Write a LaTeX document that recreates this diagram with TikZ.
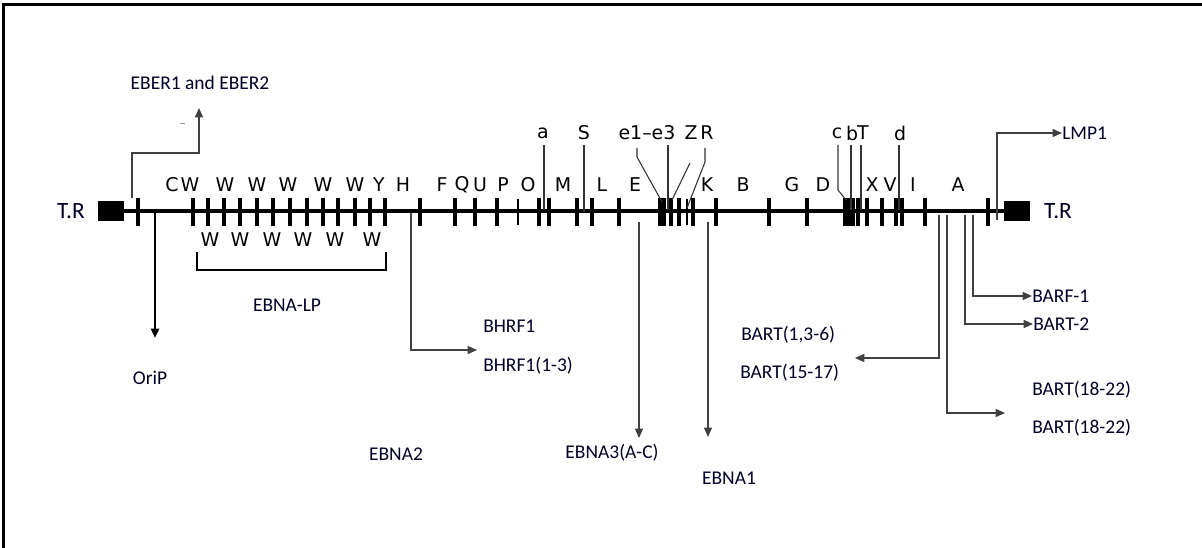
\documentclass[tikz,border=0pt]{standalone}
\usepackage{fontspec}
\setmainfont{Carlito}
\newfontfamily\mapfont{DejaVu Sans}
\usetikzlibrary{arrows.meta}
\begin{document}
\begin{tikzpicture}[x=0.75pt,y=-0.75pt,
  lbl/.style={inner sep=0pt,font=\fontsize{14.6}{16}\selectfont,text=black!85!blue},
  tr/.style={inner sep=0pt,font=\fontsize{17.5}{19}\selectfont,text=black!85!blue},
  mapl/.style={inner sep=0pt,font=\mapfont\fontsize{14.2}{16}\selectfont},
  tick/.style={line width=3pt},
  thintick/.style={line width=1.6pt},
  ptr/.style={line width=0.8pt,black!80},
  arr/.style={line width=0.9pt,black!75,-{Triangle[length=7pt,width=6pt]}},
  frameline/.style={line width=2pt}]
\useasboundingbox (0,0) rectangle (1202,548);
% frame
\draw[frameline] (3.5,548) -- (3.5,4.5) -- (1202,4.5);
% main line and end boxes
\coordinate (L) at (124,211);
\coordinate (R) at (1004,211);
\draw[line width=3.2pt] (L) -- (R);
\node[fill=black,minimum width=19.5pt,minimum height=15.5pt,inner sep=0pt] (boxL) at (111,211) {};
\node[fill=black,minimum width=19.5pt,minimum height=15.5pt,inner sep=0pt] (boxR) at (1017,211) {};
\node[tr] (trL) at (71,211) {T.R};
\node[tr] (trR) at (1058,211) {T.R};
% ticks
\foreach \x in {138,193,208,224,240,257,273,290,307,323,338,355,370,385,420,455,475,497,539,549,577,592,619,660,664,671,679,693,716,769,807,845,849,853,858,867,882,896,902,925,988}
  \draw[tick] (\x,198) -- (\x,226);
\foreach \x in {518,687}
  \draw[thintick] (\x,199) -- (\x,225);
% upper letters
\foreach \x/\t in {172/C,190/W,225/W,257/W,288/W,323/W,355/W,379/Y,403/H,442/F,462/Q,480/U,503/P,528/O,563/M,602/L,635/E,707/K,743/B,792/G,823/D,872/X,890/V,913/I,958/A}
  \node[mapl] at (\x,185) {\t};
% lower W
\foreach \x in {210,240,272,303,335,372}
  \node[mapl] at (\x,240) {W};
% top labels
\node[mapl] (la) at (543,133) {a};
\node[mapl] (lS) at (584,133) {S};
\node[mapl] (le) at (647,133) {e1–e3};
\node[mapl] (lZ) at (691,133) {Z};
\node[mapl] (lR) at (707,133) {R};
\node[mapl] (lc) at (837,133) {c};
\node[mapl] (lb) at (852,133) {b};
\node[mapl] (lT) at (863,133) {T};
\node[mapl] (ld) at (900,133) {d};
% pointer lines
\draw[ptr] (544,145) -- (544,210);
\draw[ptr] (584,145) -- (584,212);
\draw[ptr] (637,148) -- (637,157) -- (662,202);
\draw[ptr] (668,145) -- (668,210);
\draw[ptr] (690,163) -- (672,200);
\draw[ptr] (705,148) -- (705,162) -- (687,208);
\draw[ptr] (838,145) -- (838,190) -- (846,200);
\draw[ptr] (851,145) -- (851,210);
\draw[ptr] (861,145) -- (861,210);
\draw[ptr] (899,145) -- (899,210);
% EBER
\node[lbl] (eber) at (200,83) {EBER1 and EBER2};
\coordinate (eberS) at (132,198);
\coordinate (eberT) at (199,108);
\draw[arr,line width=1.2pt] (eberS) -- (132,153) -- (199,153) -- (eberT);
\draw[black!40,line width=0.6pt] (180,123) -- (185,123);
% OriP
\node[lbl] (orip) at (150,378) {OriP};
\coordinate (oriS) at (155,213);
\coordinate (oriT) at (155,338);
\draw[arr,line width=2pt,black] (oriS) -- (oriT);
% EBNA-LP bracket
\coordinate (brL) at (197,252);
\coordinate (brR) at (386,252);
\draw[line width=1.5pt] (brL) -- (197,270) -- (386,270) -- (brR);
\node[lbl] (ebnalp) at (287,305) {EBNA-LP};
% BHRF1
\node[lbl,anchor=west] (bhrf) at (483,326) {BHRF1};
\node[lbl,anchor=west] (bhrf13) at (483,366) {BHRF1(1-3)};
\coordinate (bhS) at (411,213);
\coordinate (bhT) at (477,350);
\draw[arr] (bhS) -- (411,350) -- (bhT);
% EBNA2
\node[lbl] (ebna2) at (396,454) {EBNA2};
% EBNA3
\node[lbl] (ebna3) at (612,453) {EBNA3(A-C)};
\coordinate (e3S) at (639,222);
\coordinate (e3T) at (639,438);
\draw[arr] (e3S) -- (e3T);
% EBNA1
\node[lbl] (ebna1) at (729,478) {EBNA1};
\coordinate (e1S) at (708,222);
\coordinate (e1T) at (708,437);
\draw[arr] (e1S) -- (e1T);
% BART
\node[lbl,anchor=west] (bart1) at (741,335) {BART(1,3-6)};
\node[lbl,anchor=west] (bart15) at (740,373) {BART(15-17)};
\coordinate (bLS) at (939,215);
\coordinate (bLT) at (855,358);
\draw[arr] (bLS) -- (939,358) -- (bLT);
\node[lbl,anchor=west] (bart18a) at (1032,390) {BART(18-22)};
\node[lbl,anchor=west] (bart18b) at (1032,428) {BART(18-22)};
\coordinate (bRS) at (947,215);
\coordinate (bRT) at (1005,413);
\draw[arr] (bRS) -- (947,413) -- (bRT);
\node[lbl,anchor=west] (bart2) at (1033,324) {BART-2};
\coordinate (b2S) at (965,215);
\draw[arr] (b2S) -- (965,324) -- (bart2.west);
\node[lbl,anchor=west] (barf) at (1032,296) {BARF-1};
\coordinate (bfS) at (973,215);
\draw[arr] (bfS) -- (973,296) -- (barf.west);
% LMP1
\node[lbl,anchor=west] (lmp) at (1062,133) {LMP1};
\coordinate (lmS) at (997,220);
\draw[arr] (lmS) -- (997,133) -- (lmp.west);
\end{tikzpicture}
\end{document}
